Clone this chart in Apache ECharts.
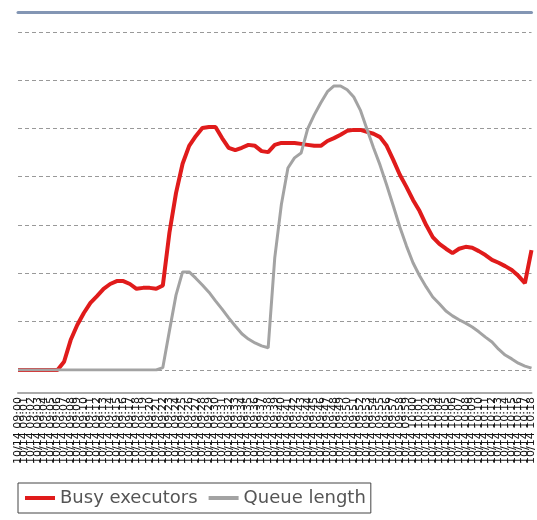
<!DOCTYPE html>
<html>
<head>
<meta charset="utf-8">
<script src="https://cdn.jsdelivr.net/npm/echarts@6/dist/echarts.min.js"></script>
<style>
  html, body { margin: 0; padding: 0; background: #fff; }
  #container { width: 537px; height: 520px; }
</style>
</head>
<body>
<div id="container"></div>
<script>
// sample times (one per minute)
var times = [
  '10/14 09:00', '10/14 09:01', '10/14 09:02', '10/14 09:03', '10/14 09:04', '10/14 09:05',
  '10/14 09:06', '10/14 09:07', '10/14 09:08', '10/14 09:09', '10/14 09:10', '10/14 09:11',
  '10/14 09:12', '10/14 09:13', '10/14 09:14', '10/14 09:15', '10/14 09:16', '10/14 09:17',
  '10/14 09:18', '10/14 09:19', '10/14 09:20', '10/14 09:21', '10/14 09:22', '10/14 09:23',
  '10/14 09:24', '10/14 09:25', '10/14 09:26', '10/14 09:27', '10/14 09:28', '10/14 09:29',
  '10/14 09:30', '10/14 09:31', '10/14 09:32', '10/14 09:33', '10/14 09:34', '10/14 09:35',
  '10/14 09:36', '10/14 09:37', '10/14 09:38', '10/14 09:39', '10/14 09:40', '10/14 09:41',
  '10/14 09:42', '10/14 09:43', '10/14 09:44', '10/14 09:45', '10/14 09:46', '10/14 09:47',
  '10/14 09:48', '10/14 09:49', '10/14 09:50', '10/14 09:51', '10/14 09:52', '10/14 09:53',
  '10/14 09:54', '10/14 09:55', '10/14 09:56', '10/14 09:57', '10/14 09:58', '10/14 09:59',
  '10/14 10:00', '10/14 10:01', '10/14 10:02', '10/14 10:03', '10/14 10:04', '10/14 10:05',
  '10/14 10:06', '10/14 10:07', '10/14 10:08', '10/14 10:09', '10/14 10:10', '10/14 10:11',
  '10/14 10:12', '10/14 10:13', '10/14 10:14', '10/14 10:15', '10/14 10:16', '10/14 10:17',
  '10/14 10:18'
];

var busyExecutors = [
  0, 0, 0, 0, 0, 0, 0, 0.17, 0.62, 0.93,
  1.18, 1.39, 1.53, 1.68, 1.78, 1.84, 1.84, 1.78, 1.68, 1.70,
  1.70, 1.68, 1.75, 2.84, 3.66, 4.27, 4.64, 4.84, 5.01, 5.03,
  5.03, 4.80, 4.60, 4.55, 4.60, 4.66, 4.64, 4.53, 4.51, 4.66,
  4.70, 4.70, 4.70, 4.68, 4.66, 4.64, 4.64, 4.74, 4.80, 4.87,
  4.95, 4.97, 4.97, 4.93, 4.89, 4.82, 4.64, 4.35, 4.04, 3.79,
  3.52, 3.29, 3.00, 2.75, 2.61, 2.51, 2.42, 2.51, 2.55, 2.53,
  2.46, 2.38, 2.28, 2.22, 2.15, 2.07, 1.95, 1.80, 2.48
];

var queueLength = [
  0, 0, 0, 0, 0, 0, 0, 0, 0, 0,
  0, 0, 0, 0, 0, 0, 0, 0, 0, 0,
  0, 0, 0.05, 0.81, 1.55, 2.03, 2.03, 1.90, 1.76, 1.61,
  1.43, 1.26, 1.08, 0.91, 0.75, 0.64, 0.56, 0.50, 0.46, 2.32,
  3.42, 4.18, 4.39, 4.49, 4.99, 5.28, 5.53, 5.76, 5.88, 5.88,
  5.80, 5.65, 5.38, 4.99, 4.60, 4.24, 3.83, 3.40, 2.96, 2.57,
  2.22, 1.95, 1.72, 1.51, 1.37, 1.22, 1.12, 1.04, 0.97, 0.89,
  0.79, 0.68, 0.58, 0.43, 0.31, 0.23, 0.14, 0.08, 0.04
];

var myChart = echarts.init(document.getElementById('container'));

var option = {
  animation: false,
  backgroundColor: '#fff',
  textStyle: { fontFamily: 'DejaVu Sans' },
  grid: { left: 18, right: 0, top: 12, bottom: 150 },
  legend: {
    left: 18,
    top: 483,
    padding: [6, 5, 6, 7],
    itemGap: 11,
    itemWidth: 30,
    itemHeight: 4,
    borderColor: '#444',
    borderWidth: 1,
    icon: 'rect',
    textStyle: { fontSize: 18, color: '#555', fontFamily: 'DejaVu Sans' },
    data: ['Busy executors', 'Queue length']
  },
  xAxis: [{
    type: 'category',
    position: 'bottom',
    boundaryGap: false,
    data: times,
    offset: 23,
    axisLine: { onZero: false, lineStyle: { color: '#aaa', width: 2 } },
    axisTick: { show: false },
    axisLabel: { interval: 0, rotate: 90, fontSize: 11, color: '#111', margin: 4 }
  }, {
    type: 'category',
    position: 'top',
    boundaryGap: false,
    data: times,
    axisLine: { onZero: false, lineStyle: { color: '#8396b4', width: 3 } },
    axisTick: { show: false },
    axisLabel: { show: false }
  }],
  yAxis: {
    type: 'value',
    min: 0,
    max: 7.41,
    interval: 1,
    axisLine: { show: false },
    axisTick: { show: false },
    axisLabel: { show: false },
    splitLine: { lineStyle: { color: '#999', type: [4, 3], width: 1 } }
  },
  series: [{
    name: 'Busy executors',
    type: 'line',
    data: busyExecutors,
    symbol: 'none',
    color: '#e01b1b',
    lineStyle: { width: 4, color: '#e01b1b' }
  }, {
    name: 'Queue length',
    type: 'line',
    data: queueLength,
    symbol: 'none',
    color: '#a3a3a3',
    lineStyle: { width: 3, color: '#a3a3a3' }
  }]
};

myChart.setOption(option);
</script>
</body>
</html>
